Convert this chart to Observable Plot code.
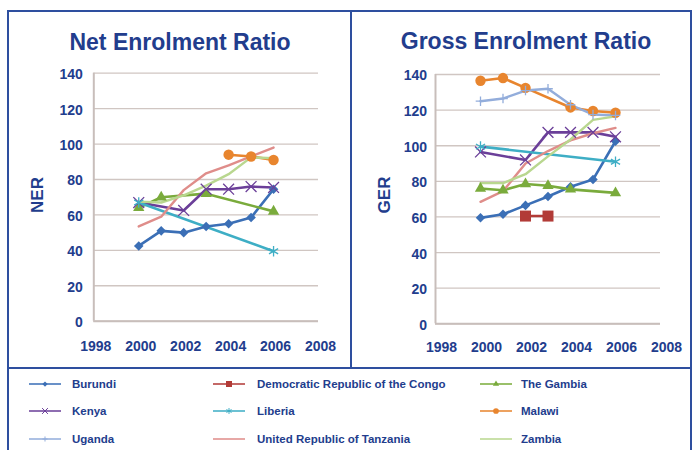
<!DOCTYPE html>
<html><head><meta charset="utf-8">
<script src="https://cdn.jsdelivr.net/npm/d3@7"></script>
<script src="https://cdn.jsdelivr.net/npm/@observablehq/plot@0.6"></script>
<style>
body{margin:0;background:#fff;}
#wrap{position:relative;width:692px;height:450px;overflow:hidden;font-family:"Liberation Sans",Arial,sans-serif;color:#223d8d;background:#fff;}
.box{position:absolute;border:2px solid #2e4f9f;box-sizing:border-box;}
.title{position:absolute;font-weight:bold;font-size:23px;transform:translate(-50%,-50%);white-space:nowrap;}
.ylab{position:absolute;font-weight:bold;font-size:17px;transform:translate(-50%,-50%) rotate(-90deg);}
.chart{position:absolute;top:0;}
.leg{position:absolute;font-weight:bold;font-size:11.5px;white-space:nowrap;transform:translateY(-50%);}
.sw{position:absolute;transform:translateY(-50%);}
</style></head><body>
<div id="wrap"></div>
<script>
// ---------- data ----------
const years = [2000, 2001, 2002, 2003, 2004, 2005, 2006];
const xTicks = [1998, 2000, 2002, 2004, 2006, 2008];
const yTicks = [0, 20, 40, 60, 80, 100, 120, 140];
const countries = ["Burundi", "Democratic Republic of the Congo", "The Gambia", "Kenya", "Liberia", "Malawi", "Uganda", "United Republic of Tanzania", "Zambia"];

// Net Enrolment Ratio (null = no value)
const nerBurundi  = [42.5, 51, 50, 53.5, 55, 58.5, 74.5];
const nerDRC      = [null, null, null, null, null, null, null];
const nerGambia   = [64, 70, null, 72, null, null, 62];
const nerKenya    = [67, null, 62.5, 74.5, 74.5, 76, 75.5];
const nerLiberia  = [67, null, null, null, null, null, 39.5];
const nerMalawi   = [null, null, null, null, 94, 93, 91];
const nerUganda   = [null, null, null, null, null, null, null];
const nerTanzania = [53.5, 59, 74, 83.5, 88, 93, 98];
const nerZambia   = [67.5, 67, 71, 76.5, 83, 92.5, 92];

// Gross Enrolment Ratio
const gerBurundi  = [59.5, 61.5, 66.5, 71.5, 77, 81, 102.5];
const gerDRC      = [null, null, 60.5, 60.5, null, null, null];
const gerGambia   = [76, 75, 78.5, 77.5, 75.5, null, 73.5];
const gerKenya    = [96.5, null, 92, 107.5, 107.5, 107.5, 105];
const gerLiberia  = [99.5, null, null, null, null, null, 91];
const gerMalawi   = [136.5, 138, 132.5, null, 121.5, 119.5, 118.5];
const gerUganda   = [125, 126.5, 131, 132, 123, 117.5, 117];
const gerTanzania = [68.5, 74.5, 90, 97, 103, 107, 110];
const gerZambia   = [79, 79, 84, 94, 103.5, 114.5, 116.5];

const nerSeries = [nerBurundi, nerDRC, nerGambia, nerKenya, nerLiberia, nerMalawi, nerUganda, nerTanzania, nerZambia];
const gerSeries = [gerBurundi, gerDRC, gerGambia, gerKenya, gerLiberia, gerMalawi, gerUganda, gerTanzania, gerZambia];

// ---------- styles ----------
const colors  = ["#3b6fb6", "#b23b37", "#7aab3c", "#6b3f99", "#3eaec5", "#e8852e", "#93addb", "#df8d8a", "#b9d78f"];
const symbols = ["diamond2", "square", "triangle", "times", "asterisk", "circle", "plus", null, null];
const symR    = [4.3, 6.2, 4.2, 5, 5, 5.2, 3.2, 0, 0];
const filled  = [true, true, true, false, false, true, false, false, false];
const widths  = [2.6, 2.6, 2.6, 2.6, 2.6, 2.6, 2.4, 2.4, 2.4];
const TEXT = "#223d8d", GRID = "#d0c6c2", AXIS = "#c8bebb";

const wrap = document.getElementById("wrap");

function tidy(series) {
  const out = [];
  series.forEach((vals, i) => vals.forEach((v, j) => {
    if (v != null) out.push({country: countries[i], idx: i, year: years[j], value: v});
  }));
  return out;
}

function panel(series, o) {
  const data = tidy(series);
  const marks = [
    Plot.gridY(yTicks, {stroke: GRID, strokeOpacity: 1, strokeWidth: 1.3}),
    Plot.ruleX([1998], {stroke: AXIS, strokeWidth: 2}),
    Plot.ruleY([0], {stroke: AXIS, strokeWidth: 2}),
    Plot.axisY(yTicks, {tickSize: 0, tickPadding: o.yPad, label: null, dy: 1.5, fontSize: 14}),
    Plot.axisX(xTicks, {tickSize: 0, tickPadding: o.xPad, label: null, tickFormat: "d", dx: o.xdx, fontSize: 14})
  ];
  countries.forEach((c, i) => {
    const d = data.filter(r => r.idx === i);
    if (!d.length) return;
    marks.push(Plot.line(d, {x: "year", y: "value", stroke: colors[i], strokeWidth: widths[i]}));
  });
  countries.forEach((c, i) => {
    const d = data.filter(r => r.idx === i);
    if (!d.length || !symbols[i]) return;
    marks.push(filled[i]
      ? Plot.dot(d, {x: "year", y: "value", symbol: symbols[i], r: symR[i], fill: colors[i], stroke: "none"})
      : Plot.dot(d, {x: "year", y: "value", symbol: symbols[i], r: symR[i], stroke: colors[i], strokeWidth: 1.3, fill: "none"}));
  });
  const svg = Plot.plot({
    width: o.width, height: 365,
    marginLeft: o.ml, marginRight: o.mr, marginTop: o.mt, marginBottom: 365 - o.y0,
    x: {domain: [1998, 2008]},
    y: {domain: [0, 140]},
    style: {color: TEXT, fontWeight: "bold", fontSize: "14px", fontFamily: '"Liberation Sans", Arial, sans-serif', background: "transparent"},
    marks
  });
  svg.classList.add("chart");
  svg.style.left = o.left + "px";
  svg.style.position = "absolute";
  svg.style.top = "0px";
  wrap.appendChild(svg);
}

function addBox(l, t, w, h) {
  const d = document.createElement("div");
  d.className = "box";
  Object.assign(d.style, {left: l + "px", top: t + "px", width: w + "px", height: h + "px"});
  wrap.appendChild(d);
}
function addText(cls, txt, x, y) {
  const d = document.createElement("div");
  d.className = cls; d.textContent = txt;
  d.style.left = x + "px"; d.style.top = y + "px";
  wrap.appendChild(d);
}

addBox(7, 10, 345, 359);
addBox(350, 10, 342, 359);
addBox(7, 367, 685, 100);

panel(nerSeries, {left: 0, width: 350, ml: 93.3, mr: 32, mt: 72.7, y0: 320.7, yPad: 11, xPad: 20, xdx: 2});
panel(gerSeries, {left: 350, width: 342, ml: 85, mr: 32, mt: 74, y0: 323.3, yPad: 8.5, xPad: 18, xdx: 6});

addText("title", "Net Enrolment Ratio", 180, 42);
addText("title", "Gross Enrolment Ratio", 526, 41);
addText("ylab", "NER", 38, 195);
addText("ylab", "GER", 385, 195);

// ---------- legend ----------
const rowY = [384, 411, 439];
const colLine = [29, 213, 480];
const colText = [72, 257, 521];
countries.forEach((c, i) => {
  const r = Math.floor(i / 3), k = i % 3;
  const s = d3.create("svg").attr("width", 32).attr("height", 14).attr("class", "sw")
    .style("left", colLine[k] + "px").style("top", rowY[r] + "px");
  s.append("line").attr("x1", 0).attr("x2", 32).attr("y1", 7).attr("y2", 7)
    .attr("stroke", colors[i]).attr("stroke-width", 1.8).attr("stroke-opacity", 0.85);
  if (symbols[i]) {
    const map = {diamond2: d3.symbolDiamond2, square: d3.symbolSquare, triangle: d3.symbolTriangle, times: d3.symbolTimes, asterisk: d3.symbolAsterisk, circle: d3.symbolCircle, plus: d3.symbolPlus};
    const p = s.append("path").attr("transform", "translate(16,7)")
      .attr("d", d3.symbol(map[symbols[i]], Math.PI * (symR[i] * 0.55) ** 2)());
    if (filled[i]) p.attr("fill", colors[i]); else p.attr("fill", "none").attr("stroke", colors[i]).attr("stroke-width", 1);
  }
  wrap.appendChild(s.node());
  addText("leg", c, colText[k], rowY[r]);
});
</script>
</body></html>
